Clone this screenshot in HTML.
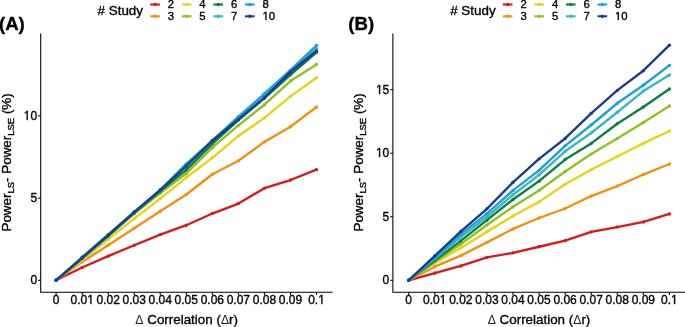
<!DOCTYPE html>
<html><head><meta charset="utf-8"><style>
html,body{margin:0;padding:0;background:#fff;width:685px;height:327px;overflow:hidden}
svg{display:block;will-change:transform}
.d{font-size:12.2px;stroke-width:0;fill:#222}
text{font-family:"Liberation Sans", sans-serif;fill:#000;stroke:#000;stroke-width:0.35px;stroke-linejoin:round}
</style></head><body>
<svg width="685" height="327" viewBox="0 0 685 327">
<polyline points="56.10,280.30 82.14,267.48 108.18,256.13 134.22,245.28 160.26,234.60 186.30,225.23 212.34,213.55 238.38,203.53 264.42,188.24 290.46,180.02 316.50,169.66" fill="none" stroke="#d7191c" stroke-width="2.35" stroke-linejoin="round" stroke-linecap="round"/>
<circle cx="56.10" cy="280.30" r="1.7" fill="#d7191c"/>
<circle cx="82.14" cy="267.48" r="1.7" fill="#d7191c"/>
<circle cx="108.18" cy="256.13" r="1.7" fill="#d7191c"/>
<circle cx="134.22" cy="245.28" r="1.7" fill="#d7191c"/>
<circle cx="160.26" cy="234.60" r="1.7" fill="#d7191c"/>
<circle cx="186.30" cy="225.23" r="1.7" fill="#d7191c"/>
<circle cx="212.34" cy="213.55" r="1.7" fill="#d7191c"/>
<circle cx="238.38" cy="203.53" r="1.7" fill="#d7191c"/>
<circle cx="264.42" cy="188.24" r="1.7" fill="#d7191c"/>
<circle cx="290.46" cy="180.02" r="1.7" fill="#d7191c"/>
<circle cx="316.50" cy="169.66" r="1.7" fill="#d7191c"/>
<polyline points="56.10,280.30 82.14,261.89 108.18,245.28 134.22,228.19 160.26,211.25 186.30,194.48 212.34,174.26 238.38,160.78 264.42,141.88 290.46,126.75 316.50,107.02" fill="none" stroke="#f29111" stroke-width="2.35" stroke-linejoin="round" stroke-linecap="round"/>
<circle cx="56.10" cy="280.30" r="1.7" fill="#f29111"/>
<circle cx="82.14" cy="261.89" r="1.7" fill="#f29111"/>
<circle cx="108.18" cy="245.28" r="1.7" fill="#f29111"/>
<circle cx="134.22" cy="228.19" r="1.7" fill="#f29111"/>
<circle cx="160.26" cy="211.25" r="1.7" fill="#f29111"/>
<circle cx="186.30" cy="194.48" r="1.7" fill="#f29111"/>
<circle cx="212.34" cy="174.26" r="1.7" fill="#f29111"/>
<circle cx="238.38" cy="160.78" r="1.7" fill="#f29111"/>
<circle cx="264.42" cy="141.88" r="1.7" fill="#f29111"/>
<circle cx="290.46" cy="126.75" r="1.7" fill="#f29111"/>
<circle cx="316.50" cy="107.02" r="1.7" fill="#f29111"/>
<polyline points="56.10,280.30 82.14,260.24 108.18,239.20 134.22,218.65 160.26,198.59 186.30,177.55 212.34,157.82 238.38,135.96 264.42,117.87 290.46,96.34 316.50,77.76" fill="none" stroke="#e8d215" stroke-width="2.35" stroke-linejoin="round" stroke-linecap="round"/>
<circle cx="56.10" cy="280.30" r="1.7" fill="#e8d215"/>
<circle cx="82.14" cy="260.24" r="1.7" fill="#e8d215"/>
<circle cx="108.18" cy="239.20" r="1.7" fill="#e8d215"/>
<circle cx="134.22" cy="218.65" r="1.7" fill="#e8d215"/>
<circle cx="160.26" cy="198.59" r="1.7" fill="#e8d215"/>
<circle cx="186.30" cy="177.55" r="1.7" fill="#e8d215"/>
<circle cx="212.34" cy="157.82" r="1.7" fill="#e8d215"/>
<circle cx="238.38" cy="135.96" r="1.7" fill="#e8d215"/>
<circle cx="264.42" cy="117.87" r="1.7" fill="#e8d215"/>
<circle cx="290.46" cy="96.34" r="1.7" fill="#e8d215"/>
<circle cx="316.50" cy="77.76" r="1.7" fill="#e8d215"/>
<polyline points="56.10,280.30 82.14,258.93 108.18,236.73 134.22,213.72 160.26,193.17 186.30,173.44 212.34,147.63 238.38,125.44 264.42,104.72 290.46,81.05 316.50,64.44" fill="none" stroke="#8cc21f" stroke-width="2.35" stroke-linejoin="round" stroke-linecap="round"/>
<circle cx="56.10" cy="280.30" r="1.7" fill="#8cc21f"/>
<circle cx="82.14" cy="258.93" r="1.7" fill="#8cc21f"/>
<circle cx="108.18" cy="236.73" r="1.7" fill="#8cc21f"/>
<circle cx="134.22" cy="213.72" r="1.7" fill="#8cc21f"/>
<circle cx="160.26" cy="193.17" r="1.7" fill="#8cc21f"/>
<circle cx="186.30" cy="173.44" r="1.7" fill="#8cc21f"/>
<circle cx="212.34" cy="147.63" r="1.7" fill="#8cc21f"/>
<circle cx="238.38" cy="125.44" r="1.7" fill="#8cc21f"/>
<circle cx="264.42" cy="104.72" r="1.7" fill="#8cc21f"/>
<circle cx="290.46" cy="81.05" r="1.7" fill="#8cc21f"/>
<circle cx="316.50" cy="64.44" r="1.7" fill="#8cc21f"/>
<polyline points="56.10,280.30 82.14,258.11 108.18,235.58 134.22,212.90 160.26,191.20 186.30,169.82 212.34,143.85 238.38,120.01 264.42,98.14 290.46,74.80 316.50,52.28" fill="none" stroke="#0a7f40" stroke-width="2.35" stroke-linejoin="round" stroke-linecap="round"/>
<circle cx="56.10" cy="280.30" r="1.7" fill="#0a7f40"/>
<circle cx="82.14" cy="258.11" r="1.7" fill="#0a7f40"/>
<circle cx="108.18" cy="235.58" r="1.7" fill="#0a7f40"/>
<circle cx="134.22" cy="212.90" r="1.7" fill="#0a7f40"/>
<circle cx="160.26" cy="191.20" r="1.7" fill="#0a7f40"/>
<circle cx="186.30" cy="169.82" r="1.7" fill="#0a7f40"/>
<circle cx="212.34" cy="143.85" r="1.7" fill="#0a7f40"/>
<circle cx="238.38" cy="120.01" r="1.7" fill="#0a7f40"/>
<circle cx="264.42" cy="98.14" r="1.7" fill="#0a7f40"/>
<circle cx="290.46" cy="74.80" r="1.7" fill="#0a7f40"/>
<circle cx="316.50" cy="52.28" r="1.7" fill="#0a7f40"/>
<polyline points="56.10,280.30 82.14,257.28 108.18,234.60 134.22,212.07 160.26,189.88 186.30,164.40 212.34,140.56 238.38,116.89 264.42,94.53 290.46,70.69 316.50,48.50" fill="none" stroke="#3ab5c3" stroke-width="2.35" stroke-linejoin="round" stroke-linecap="round"/>
<circle cx="56.10" cy="280.30" r="1.7" fill="#3ab5c3"/>
<circle cx="82.14" cy="257.28" r="1.7" fill="#3ab5c3"/>
<circle cx="108.18" cy="234.60" r="1.7" fill="#3ab5c3"/>
<circle cx="134.22" cy="212.07" r="1.7" fill="#3ab5c3"/>
<circle cx="160.26" cy="189.88" r="1.7" fill="#3ab5c3"/>
<circle cx="186.30" cy="164.40" r="1.7" fill="#3ab5c3"/>
<circle cx="212.34" cy="140.56" r="1.7" fill="#3ab5c3"/>
<circle cx="238.38" cy="116.89" r="1.7" fill="#3ab5c3"/>
<circle cx="264.42" cy="94.53" r="1.7" fill="#3ab5c3"/>
<circle cx="290.46" cy="70.69" r="1.7" fill="#3ab5c3"/>
<circle cx="316.50" cy="48.50" r="1.7" fill="#3ab5c3"/>
<polyline points="56.10,280.30 82.14,257.28 108.18,234.60 134.22,212.07 160.26,189.88 186.30,163.90 212.34,140.56 238.38,116.89 264.42,93.71 290.46,70.20 316.50,45.37" fill="none" stroke="#1d9fd8" stroke-width="2.35" stroke-linejoin="round" stroke-linecap="round"/>
<circle cx="56.10" cy="280.30" r="1.7" fill="#1d9fd8"/>
<circle cx="82.14" cy="257.28" r="1.7" fill="#1d9fd8"/>
<circle cx="108.18" cy="234.60" r="1.7" fill="#1d9fd8"/>
<circle cx="134.22" cy="212.07" r="1.7" fill="#1d9fd8"/>
<circle cx="160.26" cy="189.88" r="1.7" fill="#1d9fd8"/>
<circle cx="186.30" cy="163.90" r="1.7" fill="#1d9fd8"/>
<circle cx="212.34" cy="140.56" r="1.7" fill="#1d9fd8"/>
<circle cx="238.38" cy="116.89" r="1.7" fill="#1d9fd8"/>
<circle cx="264.42" cy="93.71" r="1.7" fill="#1d9fd8"/>
<circle cx="290.46" cy="70.20" r="1.7" fill="#1d9fd8"/>
<circle cx="316.50" cy="45.37" r="1.7" fill="#1d9fd8"/>
<polyline points="56.10,280.30 82.14,257.78 108.18,235.25 134.22,212.07 160.26,190.04 186.30,166.04 212.34,140.72 238.38,119.35 264.42,97.82 290.46,71.84 316.50,50.96" fill="none" stroke="#1b3b93" stroke-width="2.35" stroke-linejoin="round" stroke-linecap="round"/>
<circle cx="56.10" cy="280.30" r="1.7" fill="#1b3b93"/>
<circle cx="82.14" cy="257.78" r="1.7" fill="#1b3b93"/>
<circle cx="108.18" cy="235.25" r="1.7" fill="#1b3b93"/>
<circle cx="134.22" cy="212.07" r="1.7" fill="#1b3b93"/>
<circle cx="160.26" cy="190.04" r="1.7" fill="#1b3b93"/>
<circle cx="186.30" cy="166.04" r="1.7" fill="#1b3b93"/>
<circle cx="212.34" cy="140.72" r="1.7" fill="#1b3b93"/>
<circle cx="238.38" cy="119.35" r="1.7" fill="#1b3b93"/>
<circle cx="264.42" cy="97.82" r="1.7" fill="#1b3b93"/>
<circle cx="290.46" cy="71.84" r="1.7" fill="#1b3b93"/>
<circle cx="316.50" cy="50.96" r="1.7" fill="#1b3b93"/>
<path d="M40.7,33.5 V292.3 H332.6" fill="none" stroke="#000" stroke-width="1.07"/>
<line x1="38.0" y1="280.30" x2="40.7" y2="280.30" stroke="#000" stroke-width="1.07"/>
<text x="37.10" y="284" text-anchor="end" font-size="12.0">0</text>
<line x1="38.0" y1="198.10" x2="40.7" y2="198.10" stroke="#000" stroke-width="1.07"/>
<text x="37.10" y="202" text-anchor="end" font-size="12.0">5</text>
<line x1="38.0" y1="115.90" x2="40.7" y2="115.90" stroke="#000" stroke-width="1.07"/>
<text x="37.10" y="120" text-anchor="end" font-size="12.0">10</text>
<line x1="56.10" y1="292.3" x2="56.10" y2="295.0" stroke="#000" stroke-width="1.07"/>
<text x="56.10" y="303.6" text-anchor="middle" font-size="12.0">0</text>
<line x1="82.14" y1="292.3" x2="82.14" y2="295.0" stroke="#000" stroke-width="1.07"/>
<text x="82.14" y="303.6" text-anchor="middle" font-size="12.0">0.01</text>
<line x1="108.18" y1="292.3" x2="108.18" y2="295.0" stroke="#000" stroke-width="1.07"/>
<text x="108.18" y="303.6" text-anchor="middle" font-size="12.0">0.02</text>
<line x1="134.22" y1="292.3" x2="134.22" y2="295.0" stroke="#000" stroke-width="1.07"/>
<text x="134.22" y="303.6" text-anchor="middle" font-size="12.0">0.03</text>
<line x1="160.26" y1="292.3" x2="160.26" y2="295.0" stroke="#000" stroke-width="1.07"/>
<text x="160.26" y="303.6" text-anchor="middle" font-size="12.0">0.04</text>
<line x1="186.30" y1="292.3" x2="186.30" y2="295.0" stroke="#000" stroke-width="1.07"/>
<text x="186.30" y="303.6" text-anchor="middle" font-size="12.0">0.05</text>
<line x1="212.34" y1="292.3" x2="212.34" y2="295.0" stroke="#000" stroke-width="1.07"/>
<text x="212.34" y="303.6" text-anchor="middle" font-size="12.0">0.06</text>
<line x1="238.38" y1="292.3" x2="238.38" y2="295.0" stroke="#000" stroke-width="1.07"/>
<text x="238.38" y="303.6" text-anchor="middle" font-size="12.0">0.07</text>
<line x1="264.42" y1="292.3" x2="264.42" y2="295.0" stroke="#000" stroke-width="1.07"/>
<text x="264.42" y="303.6" text-anchor="middle" font-size="12.0">0.08</text>
<line x1="290.46" y1="292.3" x2="290.46" y2="295.0" stroke="#000" stroke-width="1.07"/>
<text x="290.46" y="303.6" text-anchor="middle" font-size="12.0">0.09</text>
<line x1="316.50" y1="292.3" x2="316.50" y2="295.0" stroke="#000" stroke-width="1.07"/>
<text x="316.50" y="303.6" text-anchor="middle" font-size="12.0">0.1</text>
<text x="186.65" y="324.1" text-anchor="middle" font-size="13.4"><tspan class="d">Δ</tspan> Correlation (<tspan class="d">Δ</tspan>r)</text>
<text transform="translate(10.6,162.40) rotate(-90)" text-anchor="middle" font-size="13.4">Power<tspan font-size="9.5" dy="3">LS</tspan><tspan dy="-3">- Power</tspan><tspan font-size="9.5" dy="3">LSE</tspan><tspan dy="-3"> (%)</tspan></text>
<text x="-1.0" y="30.4" font-size="18.6" font-weight="bold">(A)</text>
<text x="97.60" y="14.6" font-size="13.4"># Study</text>
<line x1="150.30" y1="4.5" x2="159.90" y2="4.5" stroke="#d7191c" stroke-width="2.1"/>
<circle cx="155.10" cy="4.5" r="1.7" fill="#d7191c"/>
<text x="167.80" y="8.30" font-size="11.3">2</text>
<line x1="150.30" y1="16.3" x2="159.90" y2="16.3" stroke="#f29111" stroke-width="2.1"/>
<circle cx="155.10" cy="16.3" r="1.7" fill="#f29111"/>
<text x="167.80" y="19.60" font-size="11.3">3</text>
<line x1="181.85" y1="4.5" x2="191.45" y2="4.5" stroke="#e8d215" stroke-width="2.1"/>
<circle cx="186.65" cy="4.5" r="1.7" fill="#e8d215"/>
<text x="199.35" y="8.30" font-size="11.3">4</text>
<line x1="181.85" y1="16.3" x2="191.45" y2="16.3" stroke="#8cc21f" stroke-width="2.1"/>
<circle cx="186.65" cy="16.3" r="1.7" fill="#8cc21f"/>
<text x="199.35" y="19.60" font-size="11.3">5</text>
<line x1="213.40" y1="4.5" x2="223.00" y2="4.5" stroke="#0a7f40" stroke-width="2.1"/>
<circle cx="218.20" cy="4.5" r="1.7" fill="#0a7f40"/>
<text x="230.90" y="8.30" font-size="11.3">6</text>
<line x1="213.40" y1="16.3" x2="223.00" y2="16.3" stroke="#3ab5c3" stroke-width="2.1"/>
<circle cx="218.20" cy="16.3" r="1.7" fill="#3ab5c3"/>
<text x="230.90" y="19.60" font-size="11.3">7</text>
<line x1="244.95" y1="4.5" x2="254.55" y2="4.5" stroke="#1d9fd8" stroke-width="2.1"/>
<circle cx="249.75" cy="4.5" r="1.7" fill="#1d9fd8"/>
<text x="262.45" y="8.30" font-size="11.3">8</text>
<line x1="244.95" y1="16.3" x2="254.55" y2="16.3" stroke="#1b3b93" stroke-width="2.1"/>
<circle cx="249.75" cy="16.3" r="1.7" fill="#1b3b93"/>
<text x="262.45" y="19.60" font-size="11.3">10</text>
<polyline points="408.70,280.30 434.77,273.06 460.84,265.94 486.91,257.42 512.98,252.85 539.05,246.75 565.12,240.64 591.19,231.87 617.26,227.05 643.33,221.96 669.40,213.95" fill="none" stroke="#d7191c" stroke-width="2.35" stroke-linejoin="round" stroke-linecap="round"/>
<circle cx="408.70" cy="280.30" r="1.7" fill="#d7191c"/>
<circle cx="434.77" cy="273.06" r="1.7" fill="#d7191c"/>
<circle cx="460.84" cy="265.94" r="1.7" fill="#d7191c"/>
<circle cx="486.91" cy="257.42" r="1.7" fill="#d7191c"/>
<circle cx="512.98" cy="252.85" r="1.7" fill="#d7191c"/>
<circle cx="539.05" cy="246.75" r="1.7" fill="#d7191c"/>
<circle cx="565.12" cy="240.64" r="1.7" fill="#d7191c"/>
<circle cx="591.19" cy="231.87" r="1.7" fill="#d7191c"/>
<circle cx="617.26" cy="227.05" r="1.7" fill="#d7191c"/>
<circle cx="643.33" cy="221.96" r="1.7" fill="#d7191c"/>
<circle cx="669.40" cy="213.95" r="1.7" fill="#d7191c"/>
<polyline points="408.70,280.30 434.77,266.70 460.84,255.64 486.91,242.42 512.98,228.95 539.05,218.02 565.12,208.49 591.19,196.03 617.26,186.12 643.33,174.55 669.40,164.00" fill="none" stroke="#f29111" stroke-width="2.35" stroke-linejoin="round" stroke-linecap="round"/>
<circle cx="408.70" cy="280.30" r="1.7" fill="#f29111"/>
<circle cx="434.77" cy="266.70" r="1.7" fill="#f29111"/>
<circle cx="460.84" cy="255.64" r="1.7" fill="#f29111"/>
<circle cx="486.91" cy="242.42" r="1.7" fill="#f29111"/>
<circle cx="512.98" cy="228.95" r="1.7" fill="#f29111"/>
<circle cx="539.05" cy="218.02" r="1.7" fill="#f29111"/>
<circle cx="565.12" cy="208.49" r="1.7" fill="#f29111"/>
<circle cx="591.19" cy="196.03" r="1.7" fill="#f29111"/>
<circle cx="617.26" cy="186.12" r="1.7" fill="#f29111"/>
<circle cx="643.33" cy="174.55" r="1.7" fill="#f29111"/>
<circle cx="669.40" cy="164.00" r="1.7" fill="#f29111"/>
<polyline points="408.70,280.30 434.77,263.01 460.84,247.89 486.91,231.75 512.98,215.99 539.05,201.88 565.12,184.34 591.19,169.72 617.26,156.50 643.33,143.41 669.40,130.96" fill="none" stroke="#e8d215" stroke-width="2.35" stroke-linejoin="round" stroke-linecap="round"/>
<circle cx="408.70" cy="280.30" r="1.7" fill="#e8d215"/>
<circle cx="434.77" cy="263.01" r="1.7" fill="#e8d215"/>
<circle cx="460.84" cy="247.89" r="1.7" fill="#e8d215"/>
<circle cx="486.91" cy="231.75" r="1.7" fill="#e8d215"/>
<circle cx="512.98" cy="215.99" r="1.7" fill="#e8d215"/>
<circle cx="539.05" cy="201.88" r="1.7" fill="#e8d215"/>
<circle cx="565.12" cy="184.34" r="1.7" fill="#e8d215"/>
<circle cx="591.19" cy="169.72" r="1.7" fill="#e8d215"/>
<circle cx="617.26" cy="156.50" r="1.7" fill="#e8d215"/>
<circle cx="643.33" cy="143.41" r="1.7" fill="#e8d215"/>
<circle cx="669.40" cy="130.96" r="1.7" fill="#e8d215"/>
<polyline points="408.70,280.30 434.77,261.87 460.84,244.08 486.91,225.01 512.98,206.84 539.05,190.44 565.12,171.50 591.19,154.09 617.26,138.46 643.33,122.44 669.40,106.05" fill="none" stroke="#8cc21f" stroke-width="2.35" stroke-linejoin="round" stroke-linecap="round"/>
<circle cx="408.70" cy="280.30" r="1.7" fill="#8cc21f"/>
<circle cx="434.77" cy="261.87" r="1.7" fill="#8cc21f"/>
<circle cx="460.84" cy="244.08" r="1.7" fill="#8cc21f"/>
<circle cx="486.91" cy="225.01" r="1.7" fill="#8cc21f"/>
<circle cx="512.98" cy="206.84" r="1.7" fill="#8cc21f"/>
<circle cx="539.05" cy="190.44" r="1.7" fill="#8cc21f"/>
<circle cx="565.12" cy="171.50" r="1.7" fill="#8cc21f"/>
<circle cx="591.19" cy="154.09" r="1.7" fill="#8cc21f"/>
<circle cx="617.26" cy="138.46" r="1.7" fill="#8cc21f"/>
<circle cx="643.33" cy="122.44" r="1.7" fill="#8cc21f"/>
<circle cx="669.40" cy="106.05" r="1.7" fill="#8cc21f"/>
<polyline points="408.70,280.30 434.77,260.60 460.84,240.90 486.91,220.18 512.98,199.46 539.05,181.16 565.12,159.56 591.19,143.41 617.26,123.71 643.33,107.06 669.40,89.01" fill="none" stroke="#0a7f40" stroke-width="2.35" stroke-linejoin="round" stroke-linecap="round"/>
<circle cx="408.70" cy="280.30" r="1.7" fill="#0a7f40"/>
<circle cx="434.77" cy="260.60" r="1.7" fill="#0a7f40"/>
<circle cx="460.84" cy="240.90" r="1.7" fill="#0a7f40"/>
<circle cx="486.91" cy="220.18" r="1.7" fill="#0a7f40"/>
<circle cx="512.98" cy="199.46" r="1.7" fill="#0a7f40"/>
<circle cx="539.05" cy="181.16" r="1.7" fill="#0a7f40"/>
<circle cx="565.12" cy="159.56" r="1.7" fill="#0a7f40"/>
<circle cx="591.19" cy="143.41" r="1.7" fill="#0a7f40"/>
<circle cx="617.26" cy="123.71" r="1.7" fill="#0a7f40"/>
<circle cx="643.33" cy="107.06" r="1.7" fill="#0a7f40"/>
<circle cx="669.40" cy="89.01" r="1.7" fill="#0a7f40"/>
<polyline points="408.70,280.30 434.77,258.69 460.84,237.09 486.91,217.00 512.98,194.76 539.05,174.81 565.12,151.29 591.19,132.99 617.26,112.27 643.33,91.05 669.40,75.03" fill="none" stroke="#3ab5c3" stroke-width="2.35" stroke-linejoin="round" stroke-linecap="round"/>
<circle cx="408.70" cy="280.30" r="1.7" fill="#3ab5c3"/>
<circle cx="434.77" cy="258.69" r="1.7" fill="#3ab5c3"/>
<circle cx="460.84" cy="237.09" r="1.7" fill="#3ab5c3"/>
<circle cx="486.91" cy="217.00" r="1.7" fill="#3ab5c3"/>
<circle cx="512.98" cy="194.76" r="1.7" fill="#3ab5c3"/>
<circle cx="539.05" cy="174.81" r="1.7" fill="#3ab5c3"/>
<circle cx="565.12" cy="151.29" r="1.7" fill="#3ab5c3"/>
<circle cx="591.19" cy="132.99" r="1.7" fill="#3ab5c3"/>
<circle cx="617.26" cy="112.27" r="1.7" fill="#3ab5c3"/>
<circle cx="643.33" cy="91.05" r="1.7" fill="#3ab5c3"/>
<circle cx="669.40" cy="75.03" r="1.7" fill="#3ab5c3"/>
<polyline points="408.70,280.30 434.77,257.42 460.84,234.29 486.91,213.57 512.98,190.44 539.05,170.36 565.12,145.83 591.19,124.98 617.26,103.25 643.33,85.20 669.40,65.37" fill="none" stroke="#1d9fd8" stroke-width="2.35" stroke-linejoin="round" stroke-linecap="round"/>
<circle cx="408.70" cy="280.30" r="1.7" fill="#1d9fd8"/>
<circle cx="434.77" cy="257.42" r="1.7" fill="#1d9fd8"/>
<circle cx="460.84" cy="234.29" r="1.7" fill="#1d9fd8"/>
<circle cx="486.91" cy="213.57" r="1.7" fill="#1d9fd8"/>
<circle cx="512.98" cy="190.44" r="1.7" fill="#1d9fd8"/>
<circle cx="539.05" cy="170.36" r="1.7" fill="#1d9fd8"/>
<circle cx="565.12" cy="145.83" r="1.7" fill="#1d9fd8"/>
<circle cx="591.19" cy="124.98" r="1.7" fill="#1d9fd8"/>
<circle cx="617.26" cy="103.25" r="1.7" fill="#1d9fd8"/>
<circle cx="643.33" cy="85.20" r="1.7" fill="#1d9fd8"/>
<circle cx="669.40" cy="65.37" r="1.7" fill="#1d9fd8"/>
<polyline points="408.70,280.30 434.77,255.90 460.84,231.37 486.91,208.87 512.98,182.31 539.05,158.92 565.12,138.46 591.19,113.42 617.26,90.41 643.33,70.71 669.40,45.16" fill="none" stroke="#1b3b93" stroke-width="2.35" stroke-linejoin="round" stroke-linecap="round"/>
<circle cx="408.70" cy="280.30" r="1.7" fill="#1b3b93"/>
<circle cx="434.77" cy="255.90" r="1.7" fill="#1b3b93"/>
<circle cx="460.84" cy="231.37" r="1.7" fill="#1b3b93"/>
<circle cx="486.91" cy="208.87" r="1.7" fill="#1b3b93"/>
<circle cx="512.98" cy="182.31" r="1.7" fill="#1b3b93"/>
<circle cx="539.05" cy="158.92" r="1.7" fill="#1b3b93"/>
<circle cx="565.12" cy="138.46" r="1.7" fill="#1b3b93"/>
<circle cx="591.19" cy="113.42" r="1.7" fill="#1b3b93"/>
<circle cx="617.26" cy="90.41" r="1.7" fill="#1b3b93"/>
<circle cx="643.33" cy="70.71" r="1.7" fill="#1b3b93"/>
<circle cx="669.40" cy="45.16" r="1.7" fill="#1b3b93"/>
<path d="M392.9,33.5 V292.3 H690" fill="none" stroke="#000" stroke-width="1.07"/>
<line x1="390.2" y1="280.30" x2="392.9" y2="280.30" stroke="#000" stroke-width="1.07"/>
<text x="389.30" y="284" text-anchor="end" font-size="12.0">0</text>
<line x1="390.2" y1="216.75" x2="392.9" y2="216.75" stroke="#000" stroke-width="1.07"/>
<text x="389.30" y="221" text-anchor="end" font-size="12.0">5</text>
<line x1="390.2" y1="153.20" x2="392.9" y2="153.20" stroke="#000" stroke-width="1.07"/>
<text x="389.30" y="157" text-anchor="end" font-size="12.0">10</text>
<line x1="390.2" y1="89.65" x2="392.9" y2="89.65" stroke="#000" stroke-width="1.07"/>
<text x="389.30" y="94" text-anchor="end" font-size="12.0">15</text>
<line x1="408.70" y1="292.3" x2="408.70" y2="295.0" stroke="#000" stroke-width="1.07"/>
<text x="408.70" y="303.6" text-anchor="middle" font-size="12.0">0</text>
<line x1="434.77" y1="292.3" x2="434.77" y2="295.0" stroke="#000" stroke-width="1.07"/>
<text x="434.77" y="303.6" text-anchor="middle" font-size="12.0">0.01</text>
<line x1="460.84" y1="292.3" x2="460.84" y2="295.0" stroke="#000" stroke-width="1.07"/>
<text x="460.84" y="303.6" text-anchor="middle" font-size="12.0">0.02</text>
<line x1="486.91" y1="292.3" x2="486.91" y2="295.0" stroke="#000" stroke-width="1.07"/>
<text x="486.91" y="303.6" text-anchor="middle" font-size="12.0">0.03</text>
<line x1="512.98" y1="292.3" x2="512.98" y2="295.0" stroke="#000" stroke-width="1.07"/>
<text x="512.98" y="303.6" text-anchor="middle" font-size="12.0">0.04</text>
<line x1="539.05" y1="292.3" x2="539.05" y2="295.0" stroke="#000" stroke-width="1.07"/>
<text x="539.05" y="303.6" text-anchor="middle" font-size="12.0">0.05</text>
<line x1="565.12" y1="292.3" x2="565.12" y2="295.0" stroke="#000" stroke-width="1.07"/>
<text x="565.12" y="303.6" text-anchor="middle" font-size="12.0">0.06</text>
<line x1="591.19" y1="292.3" x2="591.19" y2="295.0" stroke="#000" stroke-width="1.07"/>
<text x="591.19" y="303.6" text-anchor="middle" font-size="12.0">0.07</text>
<line x1="617.26" y1="292.3" x2="617.26" y2="295.0" stroke="#000" stroke-width="1.07"/>
<text x="617.26" y="303.6" text-anchor="middle" font-size="12.0">0.08</text>
<line x1="643.33" y1="292.3" x2="643.33" y2="295.0" stroke="#000" stroke-width="1.07"/>
<text x="643.33" y="303.6" text-anchor="middle" font-size="12.0">0.09</text>
<line x1="669.40" y1="292.3" x2="669.40" y2="295.0" stroke="#000" stroke-width="1.07"/>
<text x="669.40" y="303.6" text-anchor="middle" font-size="12.0">0.1</text>
<text x="539.00" y="324.1" text-anchor="middle" font-size="13.4"><tspan class="d">Δ</tspan> Correlation (<tspan class="d">Δ</tspan>r)</text>
<text transform="translate(363.0,162.40) rotate(-90)" text-anchor="middle" font-size="13.4">Power<tspan font-size="9.5" dy="3">LS</tspan><tspan dy="-3">- Power</tspan><tspan font-size="9.5" dy="3">LSE</tspan><tspan dy="-3"> (%)</tspan></text>
<text x="348.3" y="30.4" font-size="18.6" font-weight="bold">(B)</text>
<text x="450.20" y="14.6" font-size="13.4"># Study</text>
<line x1="502.90" y1="4.5" x2="512.50" y2="4.5" stroke="#d7191c" stroke-width="2.1"/>
<circle cx="507.70" cy="4.5" r="1.7" fill="#d7191c"/>
<text x="520.40" y="8.30" font-size="11.3">2</text>
<line x1="502.90" y1="16.3" x2="512.50" y2="16.3" stroke="#f29111" stroke-width="2.1"/>
<circle cx="507.70" cy="16.3" r="1.7" fill="#f29111"/>
<text x="520.40" y="19.60" font-size="11.3">3</text>
<line x1="534.45" y1="4.5" x2="544.05" y2="4.5" stroke="#e8d215" stroke-width="2.1"/>
<circle cx="539.25" cy="4.5" r="1.7" fill="#e8d215"/>
<text x="551.95" y="8.30" font-size="11.3">4</text>
<line x1="534.45" y1="16.3" x2="544.05" y2="16.3" stroke="#8cc21f" stroke-width="2.1"/>
<circle cx="539.25" cy="16.3" r="1.7" fill="#8cc21f"/>
<text x="551.95" y="19.60" font-size="11.3">5</text>
<line x1="566.00" y1="4.5" x2="575.60" y2="4.5" stroke="#0a7f40" stroke-width="2.1"/>
<circle cx="570.80" cy="4.5" r="1.7" fill="#0a7f40"/>
<text x="583.50" y="8.30" font-size="11.3">6</text>
<line x1="566.00" y1="16.3" x2="575.60" y2="16.3" stroke="#3ab5c3" stroke-width="2.1"/>
<circle cx="570.80" cy="16.3" r="1.7" fill="#3ab5c3"/>
<text x="583.50" y="19.60" font-size="11.3">7</text>
<line x1="597.55" y1="4.5" x2="607.15" y2="4.5" stroke="#1d9fd8" stroke-width="2.1"/>
<circle cx="602.35" cy="4.5" r="1.7" fill="#1d9fd8"/>
<text x="615.05" y="8.30" font-size="11.3">8</text>
<line x1="597.55" y1="16.3" x2="607.15" y2="16.3" stroke="#1b3b93" stroke-width="2.1"/>
<circle cx="602.35" cy="16.3" r="1.7" fill="#1b3b93"/>
<text x="615.05" y="19.60" font-size="11.3">10</text>
<rect x="23.78" y="118.00" width="6.77" height="3.00" fill="#fff"/>
<rect x="87.17" y="302.00" width="6.77" height="3.00" fill="#fff"/>
<rect x="318.20" y="302.00" width="6.77" height="3.00" fill="#fff"/>
<rect x="262.44" y="18.00" width="6.47" height="3.00" fill="#fff"/>
<rect x="375.98" y="155.00" width="6.77" height="3.00" fill="#fff"/>
<rect x="375.98" y="92.00" width="6.77" height="3.00" fill="#fff"/>
<rect x="439.80" y="302.00" width="6.77" height="3.00" fill="#fff"/>
<rect x="671.10" y="302.00" width="6.77" height="3.00" fill="#fff"/>
<rect x="615.04" y="18.00" width="6.47" height="3.00" fill="#fff"/>
<rect x="26" y="118" width="1" height="2" fill="#818181"/>
<rect x="26" y="120" width="1" height="1" fill="#e6e6e6"/>
<rect x="27" y="118" width="1" height="2" fill="#202020"/>
<rect x="27" y="120" width="1" height="1" fill="#d2d2d2"/>
<rect x="90" y="302" width="1" height="2" fill="#303030"/>
<rect x="90" y="304" width="1" height="1" fill="#d6d6d6"/>
<rect x="91" y="302" width="1" height="2" fill="#717171"/>
<rect x="91" y="304" width="1" height="1" fill="#e3e3e3"/>
<rect x="321" y="302" width="1" height="2" fill="#303030"/>
<rect x="321" y="304" width="1" height="1" fill="#d6d6d6"/>
<rect x="322" y="302" width="1" height="2" fill="#717171"/>
<rect x="322" y="304" width="1" height="1" fill="#e3e3e3"/>
<rect x="265" y="18" width="1" height="2" fill="#3d3d3d"/>
<rect x="265" y="20" width="1" height="1" fill="#d8d8d8"/>
<rect x="266" y="18" width="1" height="2" fill="#6e6e6e"/>
<rect x="266" y="20" width="1" height="1" fill="#e2e2e2"/>
<rect x="378" y="155" width="1" height="2" fill="#d7d7d7"/>
<rect x="378" y="157" width="1" height="1" fill="#f7f7f7"/>
<rect x="379" y="155" width="1" height="2" fill="#040404"/>
<rect x="379" y="157" width="1" height="1" fill="#cdcdcd"/>
<rect x="380" y="155" width="1" height="2" fill="#b1b1b1"/>
<rect x="380" y="157" width="1" height="1" fill="#efefef"/>
<rect x="378" y="92" width="1" height="2" fill="#d7d7d7"/>
<rect x="378" y="94" width="1" height="1" fill="#f7f7f7"/>
<rect x="379" y="92" width="1" height="2" fill="#040404"/>
<rect x="379" y="94" width="1" height="1" fill="#cdcdcd"/>
<rect x="380" y="92" width="1" height="2" fill="#b1b1b1"/>
<rect x="380" y="94" width="1" height="1" fill="#efefef"/>
<rect x="442" y="302" width="1" height="2" fill="#818181"/>
<rect x="442" y="304" width="1" height="1" fill="#e6e6e6"/>
<rect x="443" y="302" width="1" height="2" fill="#202020"/>
<rect x="443" y="304" width="1" height="1" fill="#d2d2d2"/>
<rect x="673" y="302" width="1" height="2" fill="#d7d7d7"/>
<rect x="673" y="304" width="1" height="1" fill="#f7f7f7"/>
<rect x="674" y="302" width="1" height="2" fill="#040404"/>
<rect x="674" y="304" width="1" height="1" fill="#cdcdcd"/>
<rect x="675" y="302" width="1" height="2" fill="#b1b1b1"/>
<rect x="675" y="304" width="1" height="1" fill="#efefef"/>
<rect x="617" y="18" width="1" height="2" fill="#919191"/>
<rect x="617" y="20" width="1" height="1" fill="#e9e9e9"/>
<rect x="618" y="18" width="1" height="2" fill="#1e1e1e"/>
<rect x="618" y="20" width="1" height="1" fill="#d2d2d2"/>
</svg>
</body></html>
